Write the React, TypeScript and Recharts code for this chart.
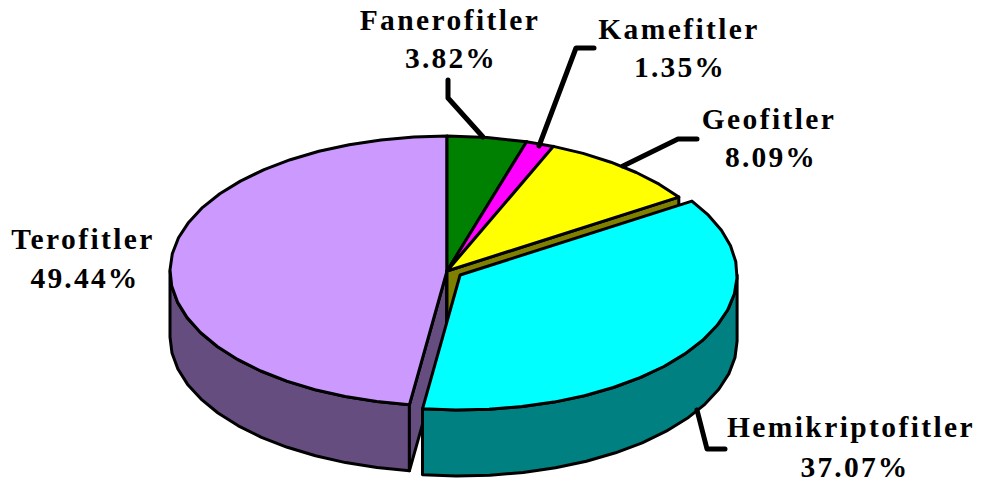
import React from 'react';
import { PieChart, Pie } from 'recharts';

// Slices, drawn back to front so the pulled-out one lands on top
const categories = ['Terofitler', 'Fanerofitler', 'Kamefitler', 'Geofitler', 'Hemikriptofitler'];
const shares = [49.44, 3.82, 1.35, 8.09, 37.07];
const percentLabels = ['49.44%', '3.82%', '1.35%', '8.09%', '37.07%'];
const topColors = ['#CC99FF', '#008000', '#FF00FF', '#FFFF00', '#00FFFF'];
const wallColors = ['#664D80', '#004000', '#800080', '#808000', '#008080'];
const exploded = [0, 0, 0, 0, 15.5];

const pieData = categories.map((name, i) => ({ name, value: shares[i] }));
const total = shares.reduce((a, b) => a + b, 0);
const firstAngle = 90 + (shares[0] / total) * 360;

const TILT = 135 / 277;
const DEPTH = 66;
const FONT = '"Liberation Serif", serif';

// name line, percent line, leader line
const labelLayout = [
  { name: [83, 249], pct: [85, 288], leader: '' },
  { name: [450, 30], pct: [451, 68], leader: '483,137 448,98 448,80' },
  { name: [679, 39], pct: [680, 77], leader: '539,146 576,48 594,48' },
  { name: [769, 129], pct: [771, 167], leader: '623,166 678,139 697,139' },
  { name: [851, 437], pct: [855, 477], leader: '697,410 707,449 725,449' },
];

// the 3D view stretches the angles a little compared to the real shares
const warp = (t: number) => {
  const r = (t * Math.PI) / 180;
  return t + 3.15 * (1 - Math.cos(r)) + 8 * Math.sin(r) + 2 * Math.sin(2 * r);
};

function Slice3D(props: any) {
  const { cx, cy, outerRadius, startAngle, endAngle, index } = props;
  const span = Math.abs(endAngle - startAngle);
  const raw = Math.round((90 - Math.max(startAngle, endAngle)) * 1e6) / 1e6;
  const from = ((raw % 360) + 360) % 360;
  const s = warp(from);
  const e = warp(from + span);

  const rx = outerRadius;
  const ry = outerRadius * TILT;
  const mid = (((s + e) / 2) * Math.PI) / 180;
  const ox = cx + exploded[index] * Math.sin(mid);
  const oy = cy - exploded[index] * TILT * Math.cos(mid);

  const at = (t: number, drop = 0) => {
    const r = (t * Math.PI) / 180;
    return [ox + rx * Math.sin(r), oy - ry * Math.cos(r) + drop];
  };
  const arc = (a: number, b: number, drop = 0) => {
    const pts = [];
    const steps = Math.max(1, Math.round((b - a) / 7));
    for (let i = 0; i <= steps; i++) pts.push(at(a + ((b - a) * i) / steps, drop));
    return pts;
  };
  const poly = (pts: number[][]) => pts.map((p) => `${p[0].toFixed(1)},${p[1].toFixed(1)}`).join(' ');

  const line = { stroke: '#000', strokeWidth: 3, strokeLinejoin: 'round' as const };
  const wall = wallColors[index];
  const faces = [];

  const rimA = Math.max(s, 90);
  const rimB = Math.min(e, 270);
  if (rimB > rimA) {
    faces.push(
      <polygon key="rim" points={poly([...arc(rimA, rimB), ...arc(rimA, rimB, DEPTH).reverse()])} fill={wall} {...line} />,
    );
  }
  // cut faces, only the ones turned towards the viewer
  const showCut = (edge: number, turn: number) => -Math.cos(((edge + turn) * Math.PI) / 180) > 0.001;
  [
    [s, -90],
    [e, 90],
  ].forEach(([edge, turn]) => {
    if (!showCut(edge, turn)) return;
    const c = [ox, oy];
    const pts = [c, at(edge), at(edge, DEPTH), [ox, oy + DEPTH]];
    faces.push(<polygon key={`cut-${turn}`} points={poly(pts)} fill={wall} {...line} />);
  });

  return (
    <g>
      {faces}
      <polygon points={poly([[ox, oy], ...arc(s, e)])} fill={topColors[index]} {...line} />
    </g>
  );
}

function SliceLabel(props: any) {
  const i = props.index;
  const l = labelLayout[i];
  const textStyle = { fontFamily: FONT, fontSize: 29.5, fontWeight: 700, fill: '#000', textAnchor: 'middle' as const };
  return (
    <g>
      {l.leader && (
        <polyline points={l.leader} fill="none" stroke="#000" strokeWidth={5} strokeLinecap="round" strokeLinejoin="round" />
      )}
      <text x={l.name[0]} y={l.name[1]} letterSpacing={2.4} clipPath="url(#page-clip)" style={textStyle}>
        {categories[i]}
      </text>
      <text x={l.pct[0]} y={l.pct[1]} letterSpacing={2.2} style={textStyle}>
        {percentLabels[i]}
      </text>
    </g>
  );
}

export default function App() {
  return (
    <div style={{ position: 'absolute', left: 0, top: 0, width: 982, height: 482, background: '#fff' }}>
      <PieChart width={982} height={482} margin={{ top: 0, right: 0, bottom: 0, left: 0 }}>
        <defs>
          <clipPath id="page-clip">
            <rect x={0} y={0} width={973} height={482} />
          </clipPath>
        </defs>
        <Pie
          data={pieData}
          dataKey="value"
          nameKey="name"
          cx={447}
          cy={271}
          outerRadius={277}
          startAngle={firstAngle}
          endAngle={firstAngle - 360}
          shape={Slice3D}
          label={SliceLabel}
          labelLine={false}
          isAnimationActive={false}
        />
      </PieChart>
    </div>
  );
}
